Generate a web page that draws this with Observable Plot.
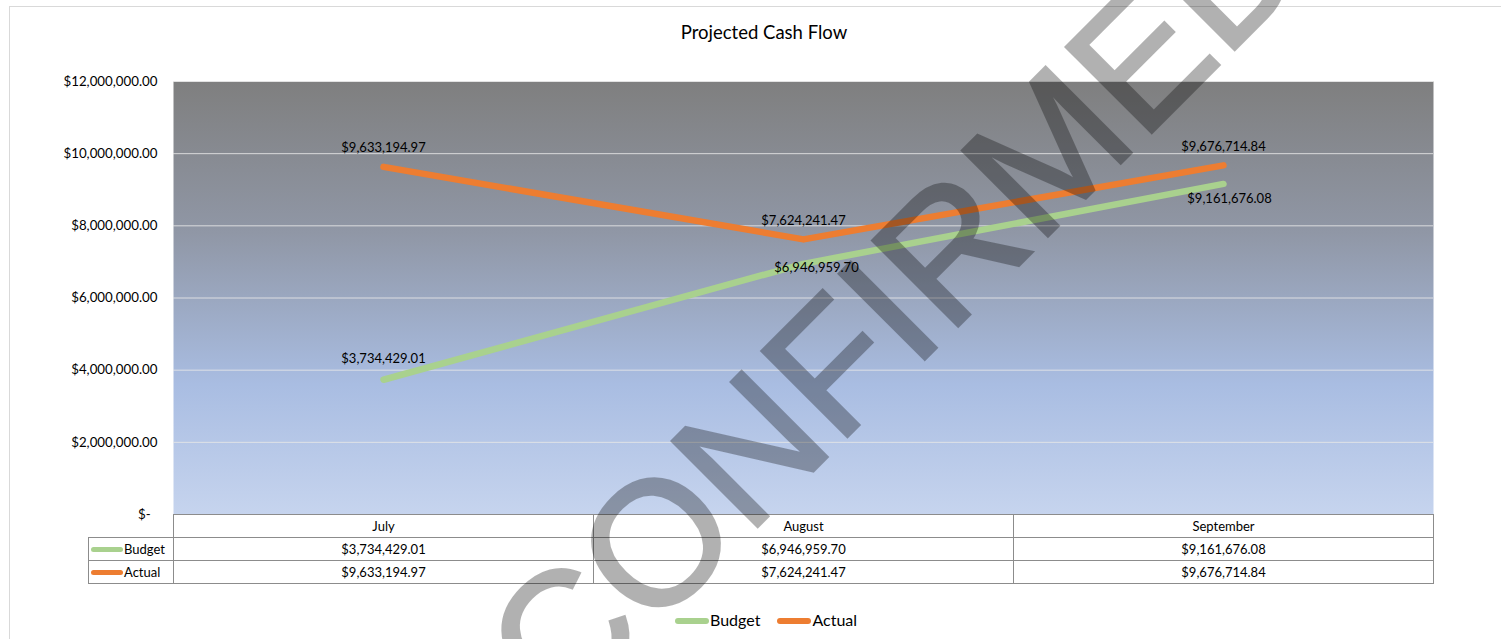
<!DOCTYPE html>
<html>
<head>
<meta charset="utf-8">
<script src="https://cdn.jsdelivr.net/npm/d3@7"></script>
<script src="https://cdn.jsdelivr.net/npm/@observablehq/plot@0.6"></script>
<style>
  html, body { margin: 0; padding: 0; background: #fff; }
  body { width: 1501px; height: 639px; overflow: hidden; font-family: Lato, "Open Sans", sans-serif; color: #000; }
  #wrap { position: relative; width: 1501px; height: 639px; overflow: hidden; }
  #frame { position: absolute; left: 9px; top: 6px; width: 1600px; height: 800px; border: 1px solid #d9d9d9; box-sizing: border-box; }
  #chart { position: absolute; left: 0; top: 0; }
  #title { position: absolute; left: 564px; top: 21px; width: 400px; text-align: center; font-size: 18.5px; line-height: 22px; }
  #table { position: absolute; left: 88px; top: 514px; border-collapse: collapse; font-size: 13px; }
  #table td { border: 1px solid #8c8c8c; height: 23px; padding: 0; text-align: center; box-sizing: border-box; line-height: 21px; }
  #table td.key { width: 85px; text-align: left; white-space: nowrap; }
  #table tr:first-child td.key { border-left: none; border-top: none; }
  #table td.val { width: 420px; }
  .sw { display: inline-block; width: 32px; height: 5px; border-radius: 3px; vertical-align: middle; margin: 0 1px 2px 2px; }
  #legend { position: absolute; left: 675px; top: 610px; font-size: 16px; line-height: 20px; white-space: nowrap; }
  #legend .item { display: inline-block; margin-right: 17px; }
  #legend .sw { width: 34px; height: 6px; margin: 0 1px 2px 0; }
  #wm { position: absolute; left: 0; top: 0; pointer-events: none; }
</style>
</head>
<body>
<div id="wrap">
  <div id="frame"></div>
  <div id="chart"></div>
  <div id="title"></div>
  <table id="table"></table>
  <div id="legend"></div>
</div>
<script>
// ---- data ----
const title = "Projected Cash Flow";
const months = ["July", "August", "September"];
const seriesNames = ["Budget", "Actual"];
const budget = [3734429.01, 6946959.70, 9161676.08];
const actual = [9633194.97, 7624241.47, 9676714.84];
const yTicks = [0, 2000000, 4000000, 6000000, 8000000, 10000000, 12000000];
const seriesColors = ["#a9d18e", "#ed7d31"];
const watermark = "CONFIRMED";

const fmt = d3.format("$,.2f");
const fmtAxis = d => d === 0 ? "$-\u00a0\u00a0" : fmt(d);

const budgetRows = months.map((m, i) => ({month: m, series: seriesNames[0], value: budget[i], i}));
const actualRows = months.map((m, i) => ({month: m, series: seriesNames[1], value: actual[i], i}));

const lineOpts = {x: "month", y: "value", strokeWidth: 6.5, strokeLinecap: "round", strokeLinejoin: "round"};
const labelOpts = {x: "month", y: "value", text: d => fmt(d.value), fill: "#000", fontSize: 13};

const chart = Plot.plot({
  width: 1501,
  height: 639,
  marginLeft: 173,
  marginRight: 68,
  marginTop: 81,
  marginBottom: 125,
  style: {fontFamily: "Lato, 'Open Sans', sans-serif", fontSize: "13px", color: "#000", background: "transparent"},
  x: {type: "point", domain: months, padding: 0.5, axis: null},
  y: {domain: [0, 12000000], axis: null},
  marks: [
    Plot.frame({fill: "url(#plotbg)", stroke: "none"}),
    Plot.gridY(yTicks.filter(d => d > 0), {stroke: "#e8e8e8", strokeOpacity: 0.85, strokeWidth: 1}),
    Plot.axisY(yTicks, {tickSize: 0, tickPadding: 16, tickFormat: fmtAxis, fontSize: 13.3, fill: "#000", label: null}),
    Plot.line(budgetRows, {...lineOpts, stroke: seriesColors[0]}),
    Plot.line(actualRows, {...lineOpts, stroke: seriesColors[1]}),
    Plot.text(actualRows, {...labelOpts, dy: -19}),
    Plot.text(budgetRows.filter(d => d.i === 0), {...labelOpts, dy: -21}),
    Plot.text(budgetRows.filter(d => d.i === 1), {...labelOpts, dx: 13, dy: 4}),
    Plot.text(budgetRows.filter(d => d.i === 2), {...labelOpts, dx: 6, dy: 15})
  ]
});

// gradient for plot background
const defs = d3.select(chart).insert("defs", ":first-child");
const grad = defs.append("linearGradient").attr("id", "plotbg")
  .attr("x1", 0).attr("y1", 0).attr("x2", 0).attr("y2", 1);
[[0, "#7f7f7f"], [0.35, "#9097a6"], [0.7, "#a9bde2"], [1, "#c6d4ee"]].forEach(([o, c]) =>
  grad.append("stop").attr("offset", o).attr("stop-color", c));

document.getElementById("chart").appendChild(chart);
document.getElementById("title").textContent = title;

// data table
const table = d3.select("#table");
const head = table.append("tr");
head.append("td").attr("class", "key");
months.forEach(m => head.append("td").attr("class", "val").text(m));
[[budget, 0], [actual, 1]].forEach(([vals, s]) => {
  const tr = table.append("tr");
  const k = tr.append("td").attr("class", "key");
  k.append("span").attr("class", "sw").style("background", seriesColors[s]);
  k.append("span").text(seriesNames[s]);
  vals.forEach(v => tr.append("td").attr("class", "val").text(fmt(v)));
});

// legend
const legend = d3.select("#legend");
seriesNames.forEach((n, s) => {
  const it = legend.append("span").attr("class", "item");
  it.append("span").attr("class", "sw").style("background", seriesColors[s]);
  it.append("span").text(n);
});

// watermark overlay
const wm = d3.select("#wrap").append("svg").attr("id", "wm").attr("width", 1501).attr("height", 639);
wm.append("g")
  .attr("opacity", 0.3)
  .append("text")
  .attr("transform", "translate(893,302) rotate(-45)")
  .attr("text-anchor", "middle")
  .attr("dy", "0.358em")
  .attr("font-family", "'Liberation Sans', Arial, sans-serif")
  .attr("font-size", 176)
  .attr("fill", "#000")
  .attr("stroke", "#000")
  .attr("stroke-width", 3)
  .attr("stroke-linejoin", "miter")
  .text(watermark);
</script>
</body>
</html>
